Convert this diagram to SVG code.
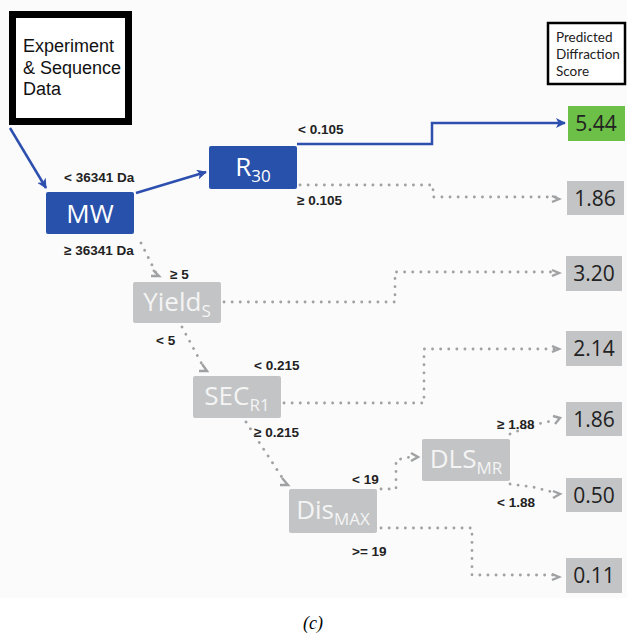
<svg xmlns="http://www.w3.org/2000/svg" width="627" height="635" viewBox="0 0 627 635">
<defs>
<style>
.lbl{font-family:"Liberation Sans",Arial,sans-serif;font-weight:bold;font-size:13.5px;fill:#222}
.blue{fill:#2751ab}
.gray{fill:#c3c4c6}
.ntxt{font-family:"Open Sans","Lato",sans-serif;font-size:26px;fill:#fff;text-anchor:middle}
.gtxt{font-family:"Open Sans","Lato",sans-serif;font-size:26px;fill:#f4f4f4;text-anchor:middle}
.sub{font-size:17px}
.val{font-family:"Open Sans","Lato",sans-serif;font-size:21px;fill:#222;text-anchor:middle}
.vbox{fill:#c3c4c6}
.bl{fill:none;stroke:#2d4fae;stroke-width:2.5}
.dot{fill:none;stroke:#a0a1a3;stroke-width:2.8;stroke-dasharray:0.1 8;stroke-linecap:round}
.ah{fill:none;stroke:#a0a1a3;stroke-width:2.4}
</style>
<marker id="ab" viewBox="0 0 10 10" refX="9" refY="5" markerWidth="4" markerHeight="4" orient="auto" markerUnits="strokeWidth">
<path d="M0,0 L10,5 L0,10 L2.5,5 z" fill="#2d4fae"/>
</marker>
</defs>
<rect x="0" y="0" width="627" height="598" fill="#fbfbfb"/>

<g id="connectors">
<path class="bl" d="M10,128 L46,188" marker-end="url(#ab)"/>
<path class="bl" d="M136,193 L206,172" marker-end="url(#ab)"/>
<path class="bl" d="M297,144 H432 V123 H565" marker-end="url(#ab)"/>
<path class="dot" d="M300,185 H433 V197 H558"/>
<path class="dot" d="M141,243 L156,273"/>
<path class="dot" d="M224,302 H395 V272 H556"/>
<path class="dot" d="M182,327 L204,368"/>
<path class="dot" d="M284,403 H424 V349 H556"/>
<path class="dot" d="M246,422 L285,482"/>
<path class="dot" d="M381,489 H396 V460 L410,457"/>
<path class="dot" d="M381,528 H472 V575 H556"/>
<path class="dot" d="M510,434 L533,425 L556,420"/>
<path class="dot" d="M510,484 L533,487 L556,493"/>
<path class="ah" d="M552,196 L559,199 L552,202"/>
<path class="ah" d="M552,270 L559,273 L552,276"/>
<path class="ah" d="M552,346 L559,349 L552,352"/>
<path class="ah" d="M552,574 L559,577 L552,580"/>
<path class="ah" d="M553,416 L560,418 L555,424"/>
<path class="ah" d="M553,491 L560,494 L553,498"/>
<path class="ah" d="M411,453 L418,457 L411,461"/>
<path class="ah" d="M153,270 L159,276 L151,276"/>
<path class="ah" d="M202,364 L207,371 L199,371"/>
<path class="ah" d="M282,478 L288,485 L280,485"/>
</g>

<g id="labels">
<text class="lbl" x="64" y="182">&lt; 36341 Da</text>
<text class="lbl" x="64" y="255">≥ 36341 Da</text>
<text class="lbl" x="298" y="134">&lt; 0.105</text>
<text class="lbl" x="297" y="205">≥ 0.105</text>
<text class="lbl" x="170" y="279">≥ 5</text>
<text class="lbl" x="156" y="345">&lt; 5</text>
<text class="lbl" x="254" y="370">&lt; 0.215</text>
<text class="lbl" x="254" y="437">≥ 0.215</text>
<text class="lbl" x="352" y="484">&lt; 19</text>
<text class="lbl" x="352" y="556">&gt;= 19</text>
<text class="lbl" x="497" y="429">≥ 1.88</text>
<text class="lbl" x="497" y="507">&lt; 1.88</text>
</g>

<g id="input">
<rect x="12.5" y="14.5" width="116" height="107" fill="#fff" stroke="#000" stroke-width="7"/>
<text font-family="Liberation Sans,Arial,sans-serif" font-size="18" fill="#111"><tspan x="23" y="52">Experiment</tspan><tspan x="23" y="74">&amp; Sequence</tspan><tspan x="23" y="95">Data</tspan></text>
</g>

<g id="legend">
<rect x="548" y="23" width="77" height="61" fill="#fff" stroke="#000" stroke-width="2.5"/>
<text font-family="Lato,Open Sans,sans-serif" font-size="13.5" fill="#222"><tspan x="556" y="42">Predicted</tspan><tspan x="556" y="59">Diffraction</tspan><tspan x="556" y="76">Score</tspan></text>
</g>

<g id="MW"><rect class="blue" x="46" y="192" width="88" height="42" rx="2"/><text class="ntxt" x="90" y="223">MW</text></g>
<g id="R30"><rect class="blue" x="209" y="146" width="88" height="43" rx="2"/><text class="ntxt" x="253" y="176">R<tspan class="sub" dy="6">30</tspan></text></g>
<g id="Yield"><rect class="gray" x="133" y="282" width="88" height="41" rx="2"/><text class="gtxt" x="177" y="311">Yield<tspan class="sub" dy="6">S</tspan></text></g>
<g id="SEC"><rect class="gray" x="193" y="376" width="88" height="42" rx="2"/><text class="gtxt" x="237" y="405">SEC<tspan class="sub" dy="6">R1</tspan></text></g>
<g id="Dis"><rect class="gray" x="289" y="489" width="88" height="44" rx="2"/><text class="gtxt" x="333" y="519">Dis<tspan class="sub" dy="6">MAX</tspan></text></g>
<g id="DLS"><rect class="gray" x="422" y="439" width="88" height="42" rx="2"/><text class="gtxt" x="466" y="468">DLS<tspan class="sub" dy="6">MR</tspan></text></g>

<g id="v544"><rect x="568" y="106" width="57" height="35" fill="#6cbf47"/><text class="val" x="596" y="131">5.44</text></g>
<g id="v186a"><rect class="vbox" x="567" y="181" width="57" height="34"/><text class="val" x="595" y="206">1.86</text></g>
<g id="v320"><rect class="vbox" x="566" y="256" width="56" height="35"/><text class="val" x="594" y="281">3.20</text></g>
<g id="v214"><rect class="vbox" x="566" y="331" width="56" height="35"/><text class="val" x="594" y="356">2.14</text></g>
<g id="v186b"><rect class="vbox" x="566" y="402" width="56" height="34"/><text class="val" x="594" y="427">1.86</text></g>
<g id="v050"><rect class="vbox" x="566" y="478" width="56" height="34"/><text class="val" x="594" y="503">0.50</text></g>
<g id="v011"><rect class="vbox" x="566" y="558" width="56" height="35"/><text class="val" x="594" y="583">0.11</text></g>

<text x="313" y="629" font-family="Liberation Serif,Times New Roman,serif" font-size="18" font-style="italic" text-anchor="middle" fill="#000">(c)</text>
</svg>
